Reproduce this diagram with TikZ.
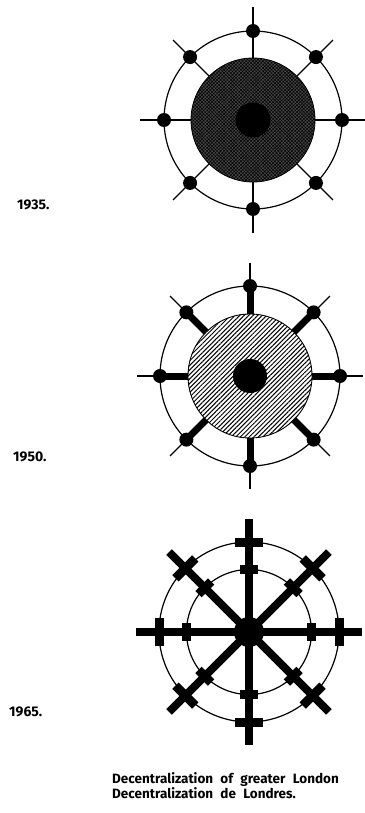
\documentclass[tikz,border=0pt]{standalone}
\usepackage{fontspec}
\setsansfont{Fira Sans}
\usetikzlibrary{patterns.meta}
\newcommand\capfont{\sffamily\bfseries\fontsize{13.5}{14}\selectfont\spaceskip=7.3pt\relax}
\tikzset{
	ring/.style={line width=1.2pt},
	spoke/.style={line width=1.1pt},
	yearlabel/.style={anchor=west,inner sep=0pt,font=\sffamily\bfseries\fontsize{14}{16}\selectfont},
	caption/.style={anchor=west,inner sep=0pt,font=\capfont}
}
\begin{document}
\begin{tikzpicture}[x=1pt,y=-1pt]
	\useasboundingbox (0,0) rectangle (364,813);
	\begin{scope}[shift={(253,120)}]
		\foreach \a in {0,45,...,315}\draw[spoke] (\a:62)--(\a:113);
		\fill[black!72] (0,0) circle (62);
		\fill[pattern={Hatch[angle=45,distance=2.4pt,line width=0.5pt]},pattern color=black] (0,0) circle (62);
		\draw[line width=0.8pt] (0,0) circle (62);
		\draw[ring] (0,0) circle (89);
		\foreach \a in {0,45,...,315}\fill (\a:89) circle (7);
		\fill (0,0) circle (17.5);
	\end{scope}
	\begin{scope}[shift={(250,376)}]
		\foreach \a in {0,45,...,315}{\draw[spoke] (\a:89)--(\a:113); \draw[line width=7pt] (\a:60)--(\a:89);}
		\fill[white] (0,0) circle (62);
		\fill[pattern={Lines[angle=45,distance=3.2pt,line width=1pt]}] (0,0) circle (62);
		\draw[line width=0.9pt] (0,0) circle (62);
		\draw[ring] (0,0) circle (90);
		\foreach \a in {0,45,...,315}\fill (\a:90) circle (7);
		\fill (0,0) circle (17);
	\end{scope}
	\begin{scope}[shift={(249,632)}]
		\draw[ring] (0,0) circle (62.5) (0,0) circle (90);
		\foreach \a in {0,45,...,315}{
			\begin{scope}[rotate=\a]
				\fill (0,-4) rectangle (113,4);
				\fill (85.5,-14) rectangle (94.5,14);
				\fill (58,-9) rectangle (67,9);
			\end{scope}}
		\fill (0,0) circle (15);
	\end{scope}
	\foreach \x/\y/\gt[count=\i] in {17/205/1935.,13/457/1950.,9/712/1965.}\path (\x,\y) node[yearlabel](yr\i){\gt};
	\node[caption] (cap1) at (112,780) {Decentralization of greater London};
	\node[caption] (cap2) at (112,793) {Decentralization de Londres.};
\end{tikzpicture}
\end{document}
